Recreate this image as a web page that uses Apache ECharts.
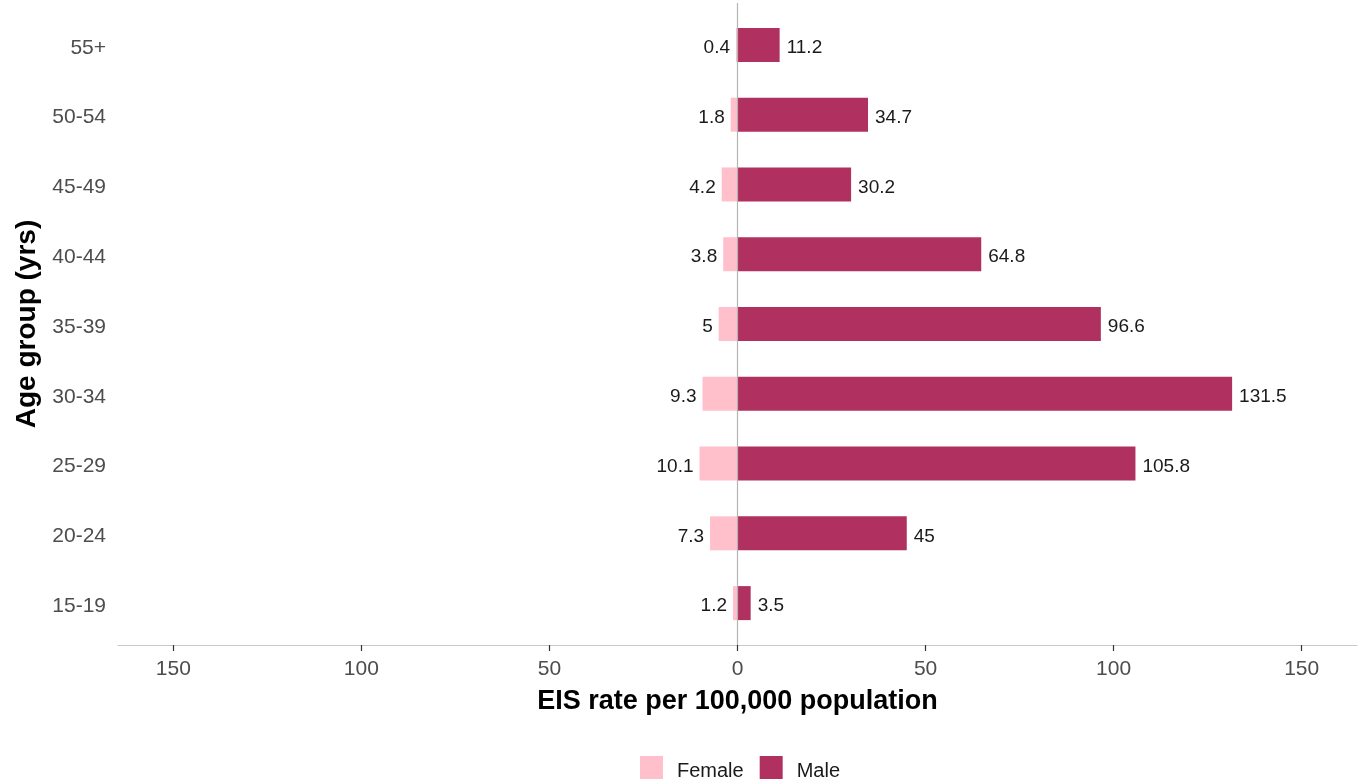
<!DOCTYPE html>
<html>
<head>
<meta charset="utf-8">
<script src="https://cdn.jsdelivr.net/npm/echarts@6/dist/echarts.min.js"></script>
<style>
html,body{margin:0;padding:0;background:#fff;}
#chart{width:1368px;height:781px;}
</style>
</head>
<body>
<div id="chart"></div>
<script>
const categories = ['15-19','20-24','25-29','30-34','35-39','40-44','45-49','50-54','55+'];
const female = [1.2, 7.3, 10.1, 9.3, 5, 3.8, 4.2, 1.8, 0.4];
const male = [3.5, 45, 105.8, 131.5, 96.6, 64.8, 30.2, 34.7, 11.2];
const xTicks = [-150, -100, -50, 0, 50, 100, 150];
const xMin = -164.7, xMax = 164.7;

const FONT = '"Liberation Sans", Arial, sans-serif';
const chart = echarts.init(document.getElementById('chart'));
chart.setOption({
  animation: false,
  backgroundColor: '#ffffff',
  textStyle: { fontFamily: FONT },
  grid: [
    { left: 118, right: 11, top: 10, bottom: 143, containLabel: false },
    { left: 118, right: 11, top: 3, bottom: 136, containLabel: false }
  ],
  legend: {
    data: ['Female', 'Male'],
    left: 640,
    top: 756,
    padding: 0,
    icon: 'rect',
    itemWidth: 23,
    itemHeight: 23,
    itemGap: 16,
    formatter: n => '{t|' + n + '}',
    textStyle: {
      fontSize: 20, color: '#1a1a1a', fontFamily: FONT,
      rich: { t: { fontSize: 20, color: '#1a1a1a', fontFamily: FONT, padding: [8, 0, 0, 9] } }
    }
  },
  xAxis: [
    { gridIndex: 0, type: 'value', min: xMin, max: xMax, show: false },
    {
      gridIndex: 1, type: 'value', min: xMin, max: xMax,
      name: 'EIS rate per 100,000 population',
      nameLocation: 'middle', nameGap: 43,
      nameTextStyle: { fontSize: 27, fontWeight: 'bold', color: '#000', fontFamily: FONT },
      axisLine: { show: true, lineStyle: { color: '#c8c8c8', width: 1.2 } },
      axisTick: { show: true, length: 6, customValues: xTicks, lineStyle: { color: '#333', width: 1.2 } },
      axisLabel: { customValues: xTicks, margin: 14, fontSize: 21, color: '#4d4d4d', fontFamily: FONT,
        formatter: v => String(Math.abs(v)) },
      splitLine: { show: false }
    }
  ],
  yAxis: [
    {
      gridIndex: 0, type: 'category', data: categories,
      name: 'Age group (yrs)', nameLocation: 'middle', nameRotate: 90, nameGap: 67,
      nameTextStyle: { fontSize: 28, fontWeight: 'bold', color: '#000', fontFamily: FONT },
      axisLine: { show: false }, axisTick: { show: false },
      axisLabel: {
        margin: 12, color: '#4d4d4d', fontFamily: FONT,
        formatter: v => '{c|' + v + '}',
        rich: { c: { fontSize: 21, color: '#4d4d4d', fontFamily: FONT, padding: [6, 0, 0, 0] } }
      },
      splitLine: { show: false }
    },
    { gridIndex: 1, type: 'value', min: 0, max: 1, show: false }
  ],
  series: [
    {
      name: 'Female', type: 'bar', xAxisIndex: 0, yAxisIndex: 0,
      data: female.map(v => -v), barWidth: 34, barGap: '-100%',
      itemStyle: { color: '#FFC0CB' },
      label: { show: true, position: 'left', distance: 6, offset: [0, 3], fontSize: 19, color: '#1a1a1a', fontFamily: FONT,
        formatter: p => String(Math.abs(p.value)) }
    },
    {
      name: 'Male', type: 'bar', xAxisIndex: 0, yAxisIndex: 0,
      data: male, barWidth: 34, barGap: '-100%',
      itemStyle: { color: '#B03060' },
      label: { show: true, position: 'right', distance: 7, offset: [0, 3], fontSize: 19, color: '#1a1a1a', fontFamily: FONT }
    },
    {
      name: 'zero', type: 'line', xAxisIndex: 1, yAxisIndex: 1, data: [], silent: true,
      markLine: {
        silent: true, symbol: ['none', 'none'], animation: false,
        label: { show: false },
        lineStyle: { color: '#b4b4b4', width: 1.2, type: 'solid' },
        data: [{ xAxis: 0 }]
      }
    }
  ]
});
</script>
</body>
</html>
